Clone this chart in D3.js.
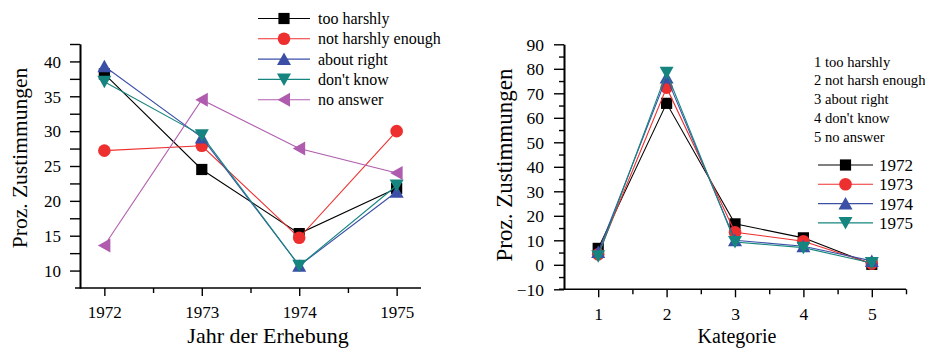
<!DOCTYPE html>
<html>
<head>
<meta charset="utf-8">
<script src="https://cdn.jsdelivr.net/npm/d3@7/dist/d3.min.js"></script>
<style>
  body { margin: 0; background: #fff; }
  svg { display: block; }
  text { font-family: "Liberation Serif", "Times New Roman", serif; fill: #000; }
</style>
</head>
<body>
<svg id="chart" width="925" height="349"></svg>
<script>
// ---- Left panel: agreement per survey year, one series per response ----
const years = [1972, 1973, 1974, 1975];
const responseNames = ["too harshly", "not harshly enough", "about right", "don't know", "no answer"];
const tooHarshly       = [38.2, 24.5, 15.3, 21.8];
const notHarshlyEnough = [27.2, 27.9, 14.7, 30.0];
const aboutRight       = [39.3, 29.1, 10.7, 21.3];
const dontKnow         = [37.1, 29.4, 10.7, 22.2];
const noAnswer         = [13.6, 34.5, 27.5, 24.0];
const leftYTicks = [10, 15, 20, 25, 30, 35, 40];

// ---- Right panel: agreement per category, one series per year ----
const categories = [1, 2, 3, 4, 5];
const categoryNames = ["1 too harshly", "2 not harsh enough", "3 about right", "4 don't know", "5 no answer"];
const yearNames = ["1972", "1973", "1974", "1975"];
const cat1972 = [6.7, 65.9, 16.7, 11.0, 0.2];
const cat1973 = [4.3, 72.3, 13.3, 9.6, 0.5];
const cat1974 = [5.2, 76.5, 10.0, 7.6, 1.6];
const cat1975 = [3.5, 78.4, 9.3, 7.0, 0.7];
const rightYTicks = [-10, 0, 10, 20, 30, 40, 50, 60, 70, 80, 90];

const colors = ["#000000", "#ee2f2f", "#3b4fa6", "#17857f", "#b05cae"];
const shapes = ["square", "circle", "up", "down", "left"];

const svg = d3.select("#chart");

function drawMarker(g, shape, color) {
  if (shape === "circle") {
    g.append("circle").attr("r", 6.3).attr("fill", color);
    return;
  }
  const paths = {
    square: "M-5.6,-5.6H5.6V5.6H-5.6Z",
    up: "M0,-6.5L7,6L-7,6Z",
    down: "M0,6.5L7,-6L-7,-6Z",
    left: "M-6.5,0L6,-7L6,7Z"
  };
  g.append("path").attr("d", paths[shape]).attr("fill", color);
}

function styleAxis(g) {
  g.attr("font-family", null);
  g.selectAll(".domain").attr("stroke", "#000").attr("stroke-width", 1.6);
  g.selectAll(".tick line").attr("stroke", "#000").attr("stroke-width", 1.4);
  g.selectAll("text").attr("fill", "#000");
}

function drawSeries(plot, x, y, xs, values, color, shape) {
  const line = d3.line().x((d, i) => x(xs[i])).y(d => y(d));
  plot.append("path").datum(values)
    .attr("d", line).attr("fill", "none")
    .attr("stroke", color).attr("stroke-width", 1.1);
  values.forEach((v, i) => {
    const g = plot.append("g").attr("transform", `translate(${x(xs[i])},${y(v)})`);
    drawMarker(g, shape, color);
  });
}

// ================= Left panel =================
{
  const x = d3.scaleLinear().domain([1971.75, 1975.25]).range([80, 421]);
  const y = d3.scaleLinear().domain([7.5, 42.5]).range([288, 44]);

  const yMinor = d3.range(12.5, 42.6, 5);
  svg.append("g").attr("transform", "translate(80,0)")
    .call(d3.axisLeft(y).tickValues(yMinor).tickSize(10).tickSizeOuter(0).tickFormat(""))
    .call(styleAxis);
  const yAx = svg.append("g").attr("transform", "translate(80,0)")
    .call(d3.axisLeft(y).tickValues(leftYTicks).tickSize(10).tickPadding(9).tickSizeOuter(0).tickFormat(d3.format("d")))
    .call(styleAxis);
  yAx.selectAll("text").attr("font-size", 17).attr("dy", "0.34em");

  const xAx = svg.append("g").attr("transform", "translate(0,288)")
    .call(d3.axisBottom(x).tickValues(years).tickSize(8).tickPadding(10).tickSizeOuter(0).tickFormat(d3.format("d")))
    .call(styleAxis);
  xAx.selectAll("text").attr("font-size", 17);
  xAx.select(".domain").attr("d", `M${x.range()[0] - 5},0H${x.range()[1]}`);
  svg.append("g").attr("transform", "translate(0,288)")
    .call(d3.axisBottom(x).tickValues([1972.5, 1973.5, 1974.5]).tickSize(5).tickSizeOuter(0).tickFormat(""))
    .call(g => g.select(".domain").remove())
    .call(styleAxis);

  svg.append("text").attr("transform", "translate(27,158) rotate(-90)")
    .attr("text-anchor", "middle").attr("font-size", 21.5).text("Proz. Zustimmungen");
  svg.append("text").attr("x", 268).attr("y", 343)
    .attr("text-anchor", "middle").attr("font-size", 22).text("Jahr der Erhebung");

  const plot = svg.append("g");
  [tooHarshly, notHarshlyEnough, aboutRight, dontKnow, noAnswer].forEach((vals, k) =>
    drawSeries(plot, x, y, years, vals, colors[k], shapes[k]));

  // legend
  const leg = svg.append("g").attr("transform", "translate(258,18.5)");
  responseNames.forEach((name, k) => {
    const row = leg.append("g").attr("transform", `translate(0,${k * 20.3})`);
    row.append("line").attr("x1", 0).attr("x2", 52).attr("stroke", colors[k]).attr("stroke-width", 1.1);
    drawMarker(row.append("g").attr("transform", "translate(26,0)"), shapes[k], colors[k]);
    row.append("text").attr("x", 60).attr("y", 5.5).attr("font-size", 16).text(name);
  });
}

// ================= Right panel =================
{
  const x = d3.scaleLinear().domain([0.5, 5.5]).range([564, 906]);
  const y = d3.scaleLinear().domain([-10, 90]).range([289.3, 44.3]);

  svg.append("g").attr("transform", "translate(564,0)")
    .call(d3.axisLeft(y).tickValues(d3.range(-5, 90, 10)).tickSize(5).tickSizeOuter(0).tickFormat(""))
    .call(styleAxis);
  const yAx = svg.append("g").attr("transform", "translate(564,0)")
    .call(d3.axisLeft(y).tickValues(rightYTicks).tickSize(10).tickPadding(10).tickSizeOuter(0).tickFormat(d3.format("d")))
    .call(styleAxis);
  yAx.selectAll("text").attr("font-size", 17.5).attr("dy", "0.34em");

  const xAx = svg.append("g").attr("transform", "translate(0,289.3)")
    .call(d3.axisBottom(x).tickValues(categories).tickSize(8).tickPadding(10).tickSizeOuter(0).tickFormat(d3.format("d")))
    .call(styleAxis);
  xAx.selectAll("text").attr("font-size", 17.5);
  xAx.select(".domain").attr("d", `M${x.range()[0] - 5},0H${x.range()[1]}`);
  svg.append("g").attr("transform", "translate(0,289.3)")
    .call(d3.axisBottom(x).tickValues([1.5, 2.5, 3.5, 4.5, 5.5]).tickSize(5).tickSizeOuter(0).tickFormat(""))
    .call(g => g.select(".domain").remove())
    .call(styleAxis);

  svg.append("text").attr("transform", "translate(512,165) rotate(-90)")
    .attr("text-anchor", "middle").attr("font-size", 23).text("Proz. Zustimmungen");
  svg.append("text").attr("x", 737).attr("y", 343)
    .attr("text-anchor", "middle").attr("font-size", 20).text("Kategorie");

  const plot = svg.append("g");
  [cat1972, cat1973, cat1974, cat1975].forEach((vals, k) =>
    drawSeries(plot, x, y, categories, vals, colors[k], shapes[k]));

  // category key
  categoryNames.forEach((name, k) => {
    svg.append("text").attr("x", 814).attr("y", 66.5 + k * 18.9)
      .attr("font-size", 14.6).text(name);
  });

  // legend
  const leg = svg.append("g").attr("transform", "translate(818,165)");
  yearNames.forEach((name, k) => {
    const row = leg.append("g").attr("transform", `translate(0,${k * 19.3})`);
    row.append("line").attr("x1", 0).attr("x2", 55).attr("stroke", colors[k]).attr("stroke-width", 1.1);
    drawMarker(row.append("g").attr("transform", "translate(27.5,0)"), shapes[k], colors[k]);
    row.append("text").attr("x", 61).attr("y", 6).attr("font-size", 17).text(name);
  });
}
</script>
</body>
</html>
